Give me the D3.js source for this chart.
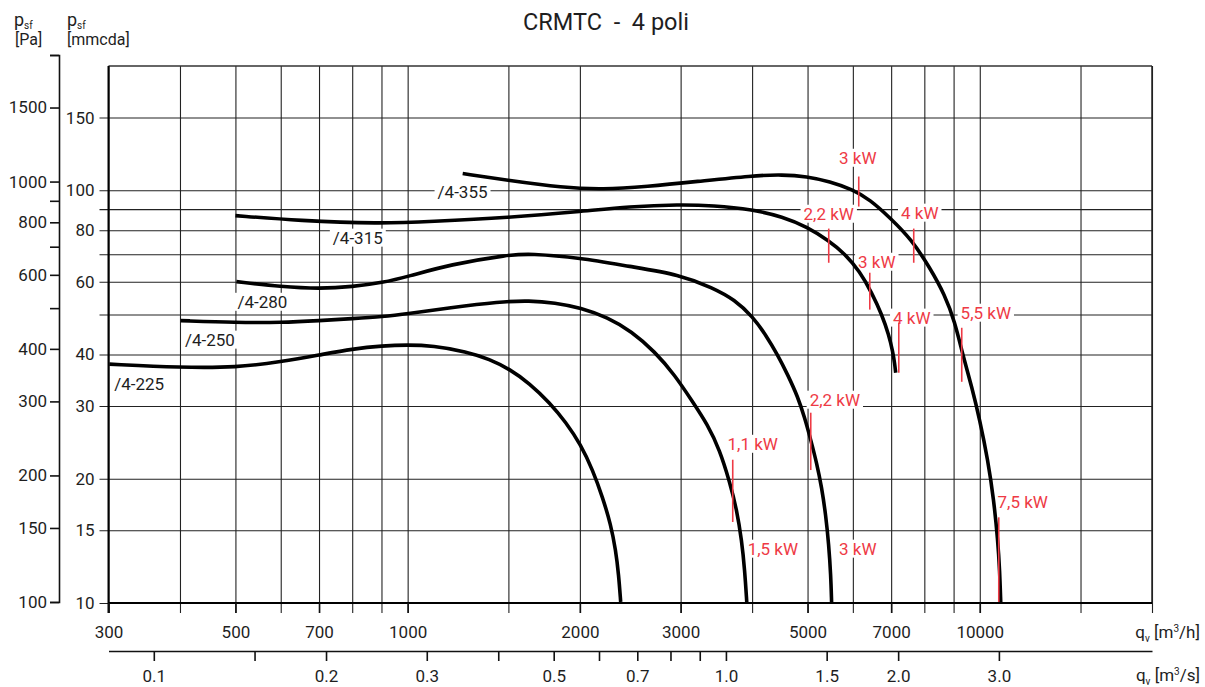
<!DOCTYPE html>
<html><head><meta charset="utf-8">
<script src="https://cdn.jsdelivr.net/npm/d3@7"></script>
<style>
body{margin:0;background:#fff;}
svg text{font-family:Roboto,"DejaVu Sans",sans-serif;}
</style></head><body>
<svg id="c" width="1205" height="687"></svg>
<script>
// ---------- data ----------
const title = "CRMTC  -  4 poli";
const fanNames = ["/4-225","/4-250","/4-280","/4-315","/4-355"];
const q225 = [301, 401, 502, 602, 702, 801, 904, 1000, 1106, 1268, 1391, 1508, 1634, 1771, 1889, 2006, 2106, 2193, 2264, 2310, 2338, 2357];
const p225 = [368, 361, 361, 373, 387, 400, 407, 409, 407, 394, 378, 358, 331, 298, 268, 237, 206, 177, 153, 133, 116, 100];
const q250 = [401, 502, 602, 702, 801, 904, 1000, 1184, 1448, 1634, 1807, 2006, 2237, 2464, 2703, 2929, 3150, 3345, 3511, 3655, 3760, 3836, 3883, 3915];
const p250 = [467, 462, 462, 467, 472, 477, 485, 501, 518, 521, 515, 501, 475, 440, 394, 347, 299, 264, 230, 193, 166, 140, 119, 100];
const q280 = [502, 602, 702, 801, 904, 1000, 1184, 1508, 1634, 1999, 2444, 2989, 3413, 3729, 4010, 4226, 4433, 4617, 4806, 4944, 5065, 5188, 5294, 5380, 5445, 5490, 5508];
const p280 = [578, 562, 556, 562, 575, 594, 635, 670, 674, 659, 628, 601, 559, 524, 477, 432, 387, 347, 308, 274, 243, 214, 187, 161, 137, 116, 100];
const q315 = [500, 647, 893, 1093, 1502, 1999, 2444, 2989, 3413, 4010, 4524, 4984, 5445, 5808, 6170, 6475, 6742, 6934, 7046, 7100, 7129];
const p315 = [830, 807, 794, 803, 821, 848, 872, 882, 877, 858, 825, 781, 724, 674, 611, 544, 483, 432, 394, 369, 351];
const q355 = [1248, 1502, 1866, 2193, 2617, 3201, 4010, 4524, 4984, 5467, 5998, 6423, 6962, 7604, 8178, 8686, 9044, 9339, 9684, 10000, 10328, 10580, 10752, 10834, 10880];
const p355 = [1045, 1006, 967, 957, 973, 1000, 1033, 1039, 1028, 1000, 957, 906, 821, 727, 624, 538, 464, 387, 325, 271, 218, 175, 140, 119, 100];
const fanLabelQ = [307, 408, 504, 740, 1128];
const fanLabelP = [330, 421, 518, 736, 947];

const markerText   = ["3 kW","2,2 kW","4 kW","3 kW","4 kW","5,5 kW","1,1 kW","2,2 kW","7,5 kW","1,5 kW","3 kW"];
const markerQ      = [6144, 5445, 7666, 6423, 7218, 9300, 3700, 5065, 10794, null, null];
const markerPtop   = [1028, 773, 773, 607, 462, 449, 218, 282, 159, null, null];
const markerPbot   = [872, 641, 641, 496, 351, 334, 155, 206, 100, null, null];
const markerLabelQ = [6120, 5445, 7854, 6607, 7606, 10245, 4010, 5580, 11888, 4348, 6120];
const markerLabelP = [1140, 839, 844, 645, 475, 488, 238, 303, 173, 134, 134];

const qGrid   = [300,400,500,600,700,800,900,1000,1500,2000,3000,4000,5000,6000,7000,8000,9000,10000,15000,20000];
const qLabels = [300,500,700,1000,2000,3000,5000,7000,10000];
const qsTicks  = [0.1,0.15,0.2,0.3,0.4,0.5,0.6,0.7,0.8,0.9,1.0,1.5,2.0,3.0];
const qsLabels = [0.1,0.2,0.3,0.5,0.7,1.0,1.5,2.0,3.0];
const paTicks  = [100,150,200,300,400,500,600,700,800,900,1000,1500,2000];
const paLabels = [100,150,200,300,400,600,800,1000,1500];
const mmTicks  = [10,15,20,30,40,50,60,70,80,90,100,150];
const mmLabels = [10,15,20,30,40,60,80,100,150];

// ---------- scales ----------
const x   = d3.scaleLog().domain([300, 20000]).range([108.5, 1152]);
const xs  = d3.scaleLog().domain([300/3600, 20000/3600]).range(x.range());
const yPa = d3.scaleLog().domain([100, 2000]).range([602, 55]);
const yMm = d3.scaleLog().domain([10, 200]).range([603, 66]);

const svg = d3.select("#c");
const red = "#ee3a45";
const ink = "#1e1e1e";
const FS = 17;

// ---------- grid ----------
const pBottom = yMm(10), pTop = yMm(200), pLeft = x(300), pRight = x(20000);
svg.append("g").attr("transform", `translate(0,${pBottom+10})`)
  .call(d3.axisBottom(x).tickValues(qGrid).tickSize(-(pBottom+10-pTop)).tickFormat(""))
  .call(g => g.select(".domain").remove())
  .selectAll("line").attr("stroke", "#222").attr("stroke-width", 1.1);
svg.append("g").attr("transform", `translate(${pLeft-9},0)`)
  .call(d3.axisLeft(yMm).tickValues(mmTicks).tickSize(-(pRight-pLeft+9)).tickFormat(""))
  .call(g => g.select(".domain").remove())
  .selectAll("line").attr("stroke", "#222").attr("stroke-width", 1.1);

// frame
svg.append("line").attr("x1", pLeft).attr("x2", pRight).attr("y1", pTop).attr("y2", pTop).attr("stroke", "#333").attr("stroke-width", 1.5);
svg.append("line").attr("x1", pRight).attr("x2", pRight).attr("y1", pTop).attr("y2", pBottom).attr("stroke", "#222").attr("stroke-width", 1.5);
svg.append("line").attr("x1", pLeft).attr("x2", pLeft).attr("y1", pTop).attr("y2", pBottom+10).attr("stroke", "#000").attr("stroke-width", 2);
svg.append("line").attr("x1", pLeft).attr("x2", pRight).attr("y1", pBottom).attr("y2", pBottom).attr("stroke", "#000").attr("stroke-width", 2);

// ---------- axes ----------
function styleAxis(g){ g.selectAll("text").attr("font-size", FS).style("fill", ink); g.selectAll("line,path").attr("stroke","#111").attr("stroke-width",1.6); }

svg.append("g").attr("transform", `translate(0,${pBottom})`)
  .call(d3.axisBottom(x).tickValues(qLabels).tickSize(10).tickPadding(13).tickFormat(d3.format("d")))
  .call(g => g.select(".domain").remove())
  .call(styleAxis);

svg.append("g").attr("transform", `translate(0,651)`)
  .call(d3.axisBottom(xs).tickValues(qsTicks).tickSize(10).tickSizeOuter(0).tickPadding(9)
        .tickFormat(d => qsLabels.includes(d) ? d3.format(".1f")(d) : ""))
  .call(styleAxis);

svg.append("g").attr("transform", `translate(59,0)`)
  .call(d3.axisLeft(yPa).tickValues(paTicks).tickSize(9).tickSizeOuter(9).tickPadding(3)
        .tickFormat(d => paLabels.includes(d) ? d : ""))
  .call(styleAxis);

svg.append("g").attr("transform", `translate(${pLeft},0)`)
  .call(d3.axisLeft(yMm).tickValues(mmLabels).tickSize(0).tickPadding(14).tickFormat(d3.format("d")))
  .call(g => g.select(".domain").remove())
  .call(styleAxis);

// ---------- titles ----------
svg.append("text").attr("x", 606).attr("y", 30).attr("text-anchor","middle")
  .attr("font-size", 23.5).style("fill", ink).style("white-space","pre").text(title);

function psf(x0){
  const t = svg.append("text").attr("x", x0).attr("y", 26).attr("font-size", 18).style("fill", ink);
  t.append("tspan").text("p");
  t.append("tspan").attr("font-size", 10).attr("dy", 3).text("sf");
}
psf(14); psf(67);
svg.append("text").attr("x", 15).attr("y", 45).attr("font-size", 16).style("fill", ink).text("[Pa]");
svg.append("text").attr("x", 67).attr("y", 45).attr("font-size", 16).style("fill", ink).text("[mmcda]");

function qTitle(y0, unit){
  const t = svg.append("text").attr("x", 1200).attr("y", y0).attr("font-size", 17).attr("text-anchor","end").style("fill", ink);
  t.append("tspan").text("q");
  t.append("tspan").attr("font-size", 10).attr("dy", 4).text("v");
  t.append("tspan").attr("dy", -4).text(" [m");
  t.append("tspan").attr("font-size", 10).attr("dy", -6).text("3");
  t.append("tspan").attr("dy", 6).text(unit);
}
qTitle(638, "/h]");
qTitle(681, "/s]");

// ---------- layers ----------
const bgLayer = svg.append("g");
const curveLayer = svg.append("g");
const markLayer = svg.append("g");
const textLayer = svg.append("g");

function boxedText(px, py, str, color, anchor){
  const t = textLayer.append("text").attr("x", px).attr("y", py).attr("dy","0.36em")
    .attr("font-size", FS).attr("text-anchor", anchor).style("fill", color).text(str);
  const b = t.node().getBBox();
  bgLayer.append("rect").attr("x", b.x-3).attr("y", b.y+1).attr("width", b.width+6).attr("height", b.height-2).attr("fill","#fff");
}

// ---------- curves ----------
const fans = [[q225,p225],[q250,p250],[q280,p280],[q315,p315],[q355,p355]];
const line = d3.line().x(d => x(d[0])).y(d => yPa(d[1])).curve(d3.curveBasis);
fans.forEach(([qs, ps]) => {
  curveLayer.append("path").attr("d", line(qs.map((q,i)=>[q, ps[i]])))
    .attr("fill","none").attr("stroke","#000").attr("stroke-width",3.6)
    .attr("stroke-linecap","butt").attr("stroke-linejoin","round");
});
fanNames.forEach((n,i) => boxedText(x(fanLabelQ[i]), yPa(fanLabelP[i]), n, ink, "start"));

// ---------- power markers ----------
markerText.forEach((s,i) => {
  if (markerQ[i] !== null) {
    markLayer.append("line").attr("x1", x(markerQ[i])).attr("x2", x(markerQ[i]))
      .attr("y1", yPa(markerPtop[i])).attr("y2", yPa(markerPbot[i]))
      .attr("stroke", red).attr("stroke-width", 1.6);
  }
  boxedText(x(markerLabelQ[i]), yPa(markerLabelP[i]), s, red, "middle");
});
</script>
</body></html>
